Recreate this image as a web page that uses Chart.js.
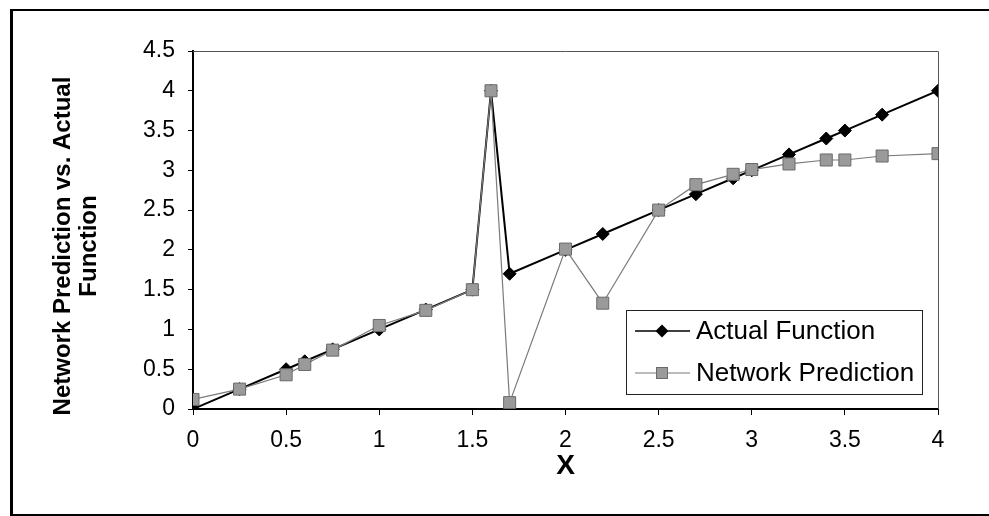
<!DOCTYPE html>
<html>
<head>
<meta charset="utf-8">
<script src="https://cdn.jsdelivr.net/npm/chart.js@4.4.1/dist/chart.umd.min.js"></script>
<style>
  html, body { margin: 0; padding: 0; background: #fff; overflow: hidden; }
  #wrap { position: relative; width: 989px; height: 516px; }
  #frame { position: absolute; left: 10px; top: 9px; width: 1000px; height: 503px;
           border-left: 3px solid #000; border-top: 2px solid #000; border-bottom: 2px solid #000; pointer-events: none; }
  canvas { position: absolute; left: 0; top: 0; }
</style>
</head>
<body>
<div id="wrap">
  <canvas id="c" width="989" height="516"></canvas>
  <div id="frame"></div>
</div>
<script>
const xValues = [0, 0.25, 0.5, 0.6, 0.75, 1, 1.25, 1.5, 1.6, 1.7, 2, 2.2, 2.5, 2.7, 2.9, 3, 3.2, 3.4, 3.5, 3.7, 4];
const actualFunction = [0, 0.25, 0.5, 0.6, 0.75, 1, 1.25, 1.5, 4, 1.7, 2, 2.2, 2.5, 2.7, 2.9, 3, 3.2, 3.4, 3.5, 3.7, 4];
const networkPrediction = [0.12, 0.25, 0.43, 0.56, 0.74, 1.05, 1.24, 1.5, 4.0, 0.08, 2.01, 1.33, 2.5, 2.82, 2.95, 3.01, 3.08, 3.13, 3.13, 3.18, 3.21];
const seriesNames = ['Actual Function', 'Network Prediction'];
const xTitle = 'X';
const yTitleLines = ['Network Prediction vs. Actual', 'Function'];
const xTicks = [0, 0.5, 1, 1.5, 2, 2.5, 3, 3.5, 4];
const yTicks = [0, 0.5, 1, 1.5, 2, 2.5, 3, 3.5, 4, 4.5];

const FONT = "'Liberation Sans', Arial, sans-serif";
const toPoints = (ys) => xValues.map((x, i) => ({x: x, y: ys[i]}));

function drawDiamond(ctx, x, y, r) {
  ctx.beginPath();
  ctx.moveTo(x, y - r); ctx.lineTo(x + r, y); ctx.lineTo(x, y + r); ctx.lineTo(x - r, y); ctx.closePath();
  ctx.fillStyle = '#000'; ctx.fill();
}
function drawSquare(ctx, x, y, h) {
  ctx.fillStyle = '#9a9a9a'; ctx.fillRect(x - h, y - h, 2 * h, 2 * h);
  ctx.strokeStyle = '#6a6a6a'; ctx.lineWidth = 1; ctx.strokeRect(x - h + 0.5, y - h + 0.5, 2 * h - 1, 2 * h - 1);
}

const extras = {
  id: 'extras',
  beforeDatasetsDraw(chart) {
    const {ctx, chartArea: a} = chart;
    ctx.save();
    ctx.strokeStyle = '#555'; ctx.lineWidth = 1;
    ctx.beginPath();
    ctx.moveTo(a.left, Math.round(a.top) + 0.5);
    ctx.lineTo(Math.round(a.right) + 0.5, Math.round(a.top) + 0.5);
    ctx.lineTo(Math.round(a.right) + 0.5, a.bottom);
    ctx.stroke();
    ctx.restore();
  },
  afterDraw(chart) {
    const {ctx} = chart;
    ctx.save();
    // y-axis title
    ctx.fillStyle = '#000';
    ctx.font = 'bold 24px ' + FONT;
    ctx.textAlign = 'center'; ctx.textBaseline = 'middle';
    const tx = [63, 89];
    yTitleLines.forEach((t, i) => {
      ctx.save(); ctx.translate(tx[i], 246); ctx.rotate(-Math.PI / 2); ctx.fillText(t, 0, 0); ctx.restore();
    });
    // legend
    const L = 626, T = 310, W = 296, H = 84;
    ctx.fillStyle = '#fff'; ctx.fillRect(L, T, W, H);
    ctx.strokeStyle = '#222'; ctx.lineWidth = 1; ctx.strokeRect(L + 0.5, T + 0.5, W, H);
    const rows = [331, 373];
    ctx.strokeStyle = '#000'; ctx.lineWidth = 1.5;
    ctx.beginPath(); ctx.moveTo(635, rows[0]); ctx.lineTo(690, rows[0]); ctx.stroke();
    drawDiamond(ctx, 662, rows[0], 6.5);
    ctx.strokeStyle = '#777'; ctx.lineWidth = 1;
    ctx.beginPath(); ctx.moveTo(635, rows[1]); ctx.lineTo(690, rows[1]); ctx.stroke();
    drawSquare(ctx, 662, rows[1], 6);
    ctx.fillStyle = '#000';
    ctx.font = '26px ' + FONT;
    ctx.textAlign = 'left'; ctx.textBaseline = 'middle';
    ctx.fillText(seriesNames[0], 696, rows[0] + 1);
    ctx.fillText(seriesNames[1], 696, rows[1] + 1);
    ctx.restore();
  }
};

new Chart(document.getElementById('c'), {
  type: 'line',
  data: {
    datasets: [
      {
        label: seriesNames[0],
        data: toPoints(actualFunction),
        borderColor: '#000', borderWidth: 2,
        pointStyle: 'rectRot', pointRadius: 6.5,
        pointBackgroundColor: '#000', pointBorderColor: '#000', pointBorderWidth: 1,
        order: 1, tension: 0
      },
      {
        label: seriesNames[1],
        data: toPoints(networkPrediction),
        borderColor: '#7a7a7a', borderWidth: 1.2,
        pointStyle: 'rect', pointRadius: 8.5,
        pointBackgroundColor: '#9a9a9a', pointBorderColor: '#6a6a6a', pointBorderWidth: 1,
        order: 0, tension: 0
      }
    ]
  },
  options: {
    responsive: false,
    animation: false,
    events: [],
    layout: { padding: { left: 0, top: 51, right: 51, bottom: 0 } },
    plugins: { legend: { display: false }, tooltip: { enabled: false } },
    scales: {
      x: {
        type: 'linear', min: 0, max: 4,
        afterBuildTicks: (s) => { s.ticks = xTicks.map(v => ({value: v})); },
        afterFit: (s) => { s.height = 107; },
        grid: { drawOnChartArea: false, drawTicks: true, tickLength: 6, color: '#000', tickWidth: 1 },
        border: { display: true, color: '#000', width: 2 },
        ticks: { color: '#000', font: { family: FONT, size: 23 }, padding: 12, maxRotation: 0,
                 callback: (v) => String(v) },
        title: { display: true, text: xTitle, color: '#000', font: { family: FONT, size: 28, weight: 'bold', lineHeight: 1 },
                 padding: { top: 0, bottom: 36 } }
      },
      y: {
        type: 'linear', min: 0, max: 4.5,
        afterBuildTicks: (s) => { s.ticks = yTicks.map(v => ({value: v})); },
        afterFit: (s) => { s.width = 193; },
        grid: { drawOnChartArea: false, drawTicks: true, tickLength: 5, color: '#000', tickWidth: 1 },
        border: { display: true, color: '#000', width: 2 },
        ticks: { color: '#000', font: { family: FONT, size: 23 }, padding: 13,
                 callback: (v) => String(v) }
      }
    }
  },
  plugins: [extras]
});
</script>
</body>
</html>
